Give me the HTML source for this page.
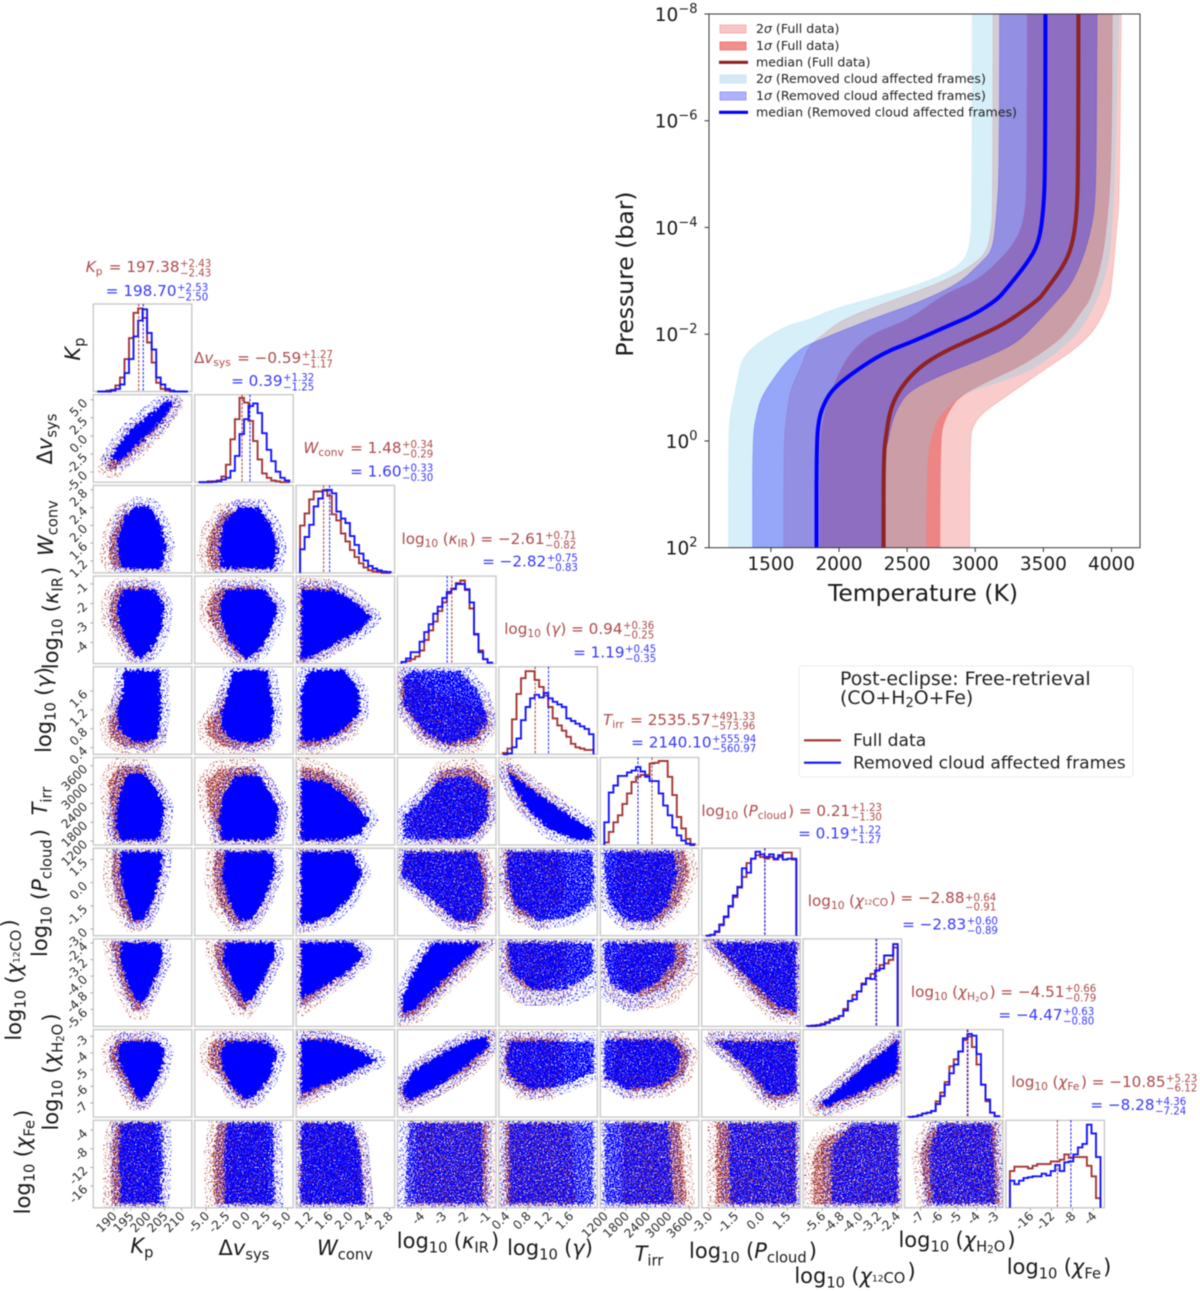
<!DOCTYPE html>
<html lang="en">
<head>
<meta charset="utf-8">
<title>Corner plot and temperature-pressure profile</title>
<style>
html,body{margin:0;padding:0;background:#fff;width:1200px;height:1291px;overflow:hidden}
svg{display:block;filter:blur(.5px);font-family:"DejaVu Sans","Liberation Sans",sans-serif}
</style>
</head>
<body>
<svg id="fig" xmlns="http://www.w3.org/2000/svg" width="1200" height="1291" viewBox="0 0 1200 1291">
<defs>
<filter id="haloRed" x="-30%" y="-30%" width="160%" height="160%" color-interpolation-filters="sRGB">
<feTurbulence type="fractalNoise" baseFrequency="0.6" numOctaves="2" seed="3" result="n"/>
<feColorMatrix in="n" type="matrix" values="0 0 0 0 0 0 0 0 0 0 0 0 0 0 0 0 0 0 9 -5.2" result="m"/>
<feComposite in="SourceGraphic" in2="m" operator="in"/>
</filter>
<filter id="haloBlue" x="-30%" y="-30%" width="160%" height="160%" color-interpolation-filters="sRGB">
<feTurbulence type="fractalNoise" baseFrequency="0.6" numOctaves="2" seed="11" result="n"/>
<feColorMatrix in="n" type="matrix" values="0 0 0 0 0 0 0 0 0 0 0 0 0 0 0 0 0 0 9 -5.0" result="m"/>
<feComposite in="SourceGraphic" in2="m" operator="in"/>
</filter>
<filter id="coreRed" x="-20%" y="-20%" width="140%" height="140%" color-interpolation-filters="sRGB">
<feTurbulence type="fractalNoise" baseFrequency="0.4" numOctaves="2" seed="8" result="n"/>
<feDisplacementMap in="SourceGraphic" in2="n" scale="10" xChannelSelector="R" yChannelSelector="G" result="d"/>
<feTurbulence type="fractalNoise" baseFrequency="0.7" numOctaves="2" seed="47" result="h"/>
<feColorMatrix in="h" type="matrix" values="0 0 0 0 0 0 0 0 0 0 0 0 0 0 0 0 0 0 9 -3.9" result="m"/>
<feComposite in="d" in2="m" operator="in"/>
</filter>
<filter id="coreSolid" x="-20%" y="-20%" width="140%" height="140%" color-interpolation-filters="sRGB">
<feTurbulence type="fractalNoise" baseFrequency="0.4" numOctaves="2" seed="5" result="n"/>
<feDisplacementMap in="SourceGraphic" in2="n" scale="10" xChannelSelector="R" yChannelSelector="G"/>
</filter>
<filter id="coreMid" x="-20%" y="-20%" width="140%" height="140%" color-interpolation-filters="sRGB">
<feTurbulence type="fractalNoise" baseFrequency="0.4" numOctaves="2" seed="5" result="n"/>
<feDisplacementMap in="SourceGraphic" in2="n" scale="10" xChannelSelector="R" yChannelSelector="G" result="d"/>
<feTurbulence type="fractalNoise" baseFrequency="0.7" numOctaves="2" seed="21" result="h"/>
<feColorMatrix in="h" type="matrix" values="0 0 0 0 0 0 0 0 0 0 0 0 0 0 0 0 0 0 9 -3.1" result="m"/>
<feComposite in="d" in2="m" operator="in"/>
</filter>
<filter id="coreLoose" x="-20%" y="-20%" width="140%" height="140%" color-interpolation-filters="sRGB">
<feTurbulence type="fractalNoise" baseFrequency="0.4" numOctaves="2" seed="5" result="n"/>
<feDisplacementMap in="SourceGraphic" in2="n" scale="10" xChannelSelector="R" yChannelSelector="G" result="d"/>
<feTurbulence type="fractalNoise" baseFrequency="0.7" numOctaves="2" seed="33" result="h"/>
<feColorMatrix in="h" type="matrix" values="0 0 0 0 0 0 0 0 0 0 0 0 0 0 0 0 0 0 9 -3.6" result="m"/>
<feComposite in="d" in2="m" operator="in"/>
</filter>
<clipPath id="tpClip"><rect x="709" y="14" width="431" height="533.7"/></clipPath>
</defs>

<g id="tp-chart"></g>

<text x="923" y="601" font-size="23.5" text-anchor="middle" fill="#1a1a1a">Temperature (K)</text>
<text x="633" y="274" font-size="23.5" text-anchor="middle" fill="#1a1a1a" transform="rotate(-90 633 274)">Pressure (bar)</text>

<g font-size="12.55" fill="#222">
<rect x="720" y="25" width="26" height="8" fill="#f8c6c6" stroke="#f0a8a8" stroke-width=".8"/>
<text x="756" y="33">2<tspan font-style="italic">σ</tspan> (Full data)</text>
<rect x="720" y="42" width="26" height="8" fill="#f29090" stroke="#e66" stroke-width=".8"/>
<text x="756" y="50">1<tspan font-style="italic">σ</tspan> (Full data)</text>
<line x1="719" x2="748" y1="62.3" y2="62.3" stroke="#8f2020" stroke-width="3.2"/>
<text x="756" y="66.5">median (Full data)</text>
<rect x="720" y="75" width="26" height="8" fill="#d6e9f5" stroke="#c8e2f2" stroke-width=".8"/>
<text x="756" y="83">2<tspan font-style="italic">σ</tspan> (Removed cloud affected frames)</text>
<rect x="720" y="92" width="26" height="8" fill="#b0b2fb" stroke="#8a8cf0" stroke-width=".8"/>
<text x="756" y="100">1<tspan font-style="italic">σ</tspan> (Removed cloud affected frames)</text>
<line x1="719" x2="748" y1="112.3" y2="112.3" stroke="#0000ff" stroke-width="3.2"/>
<text x="756" y="116.5">median (Removed cloud affected frames)</text>
</g>

<g fill="#222">
<rect x="799" y="666" width="334" height="111" rx="3" fill="#fff" stroke="#eeeeee" stroke-width="1.2"/>
<text x="840" y="685" font-size="18.9">Post-eclipse: Free-retrieval</text>
<text x="840" y="704" font-size="18.9">(CO+H<tspan dy="3" font-size="13">2</tspan><tspan dy="-3">O+Fe)</tspan></text>
<line x1="804" x2="841" y1="740.3" y2="740.3" stroke="#a33030" stroke-width="2.2"/>
<text x="853" y="746" font-size="17.1">Full data</text>
<line x1="804" x2="841" y1="762.7" y2="762.7" stroke="#1010ff" stroke-width="2.2"/>
<text x="853" y="768.5" font-size="17.1">Removed cloud affected frames</text>
</g>

<g id="corner"></g>
</svg>

<script>
/* ---------- temperature-pressure data: [log10 P (bar), T (K)] ---------- */
const red2sLo=[[-8,3130],[-4.5,3130],[-3.9,3117],[-3.51,3078],[-3.26,2959],[-3,2775],[-2.72,2485],[-2.3,2037],[-1.99,1879],[-1.77,1774],[-1.46,1734],[-.96,1642],[-.52,1616],[.04,1595],[2,1595]];
const red2sHi=[[-8,4071],[-4.5,4058],[-4,4039],[-2.89,4000],[-2.64,3986],[-2.08,3881],[-1.7,3723],[-1.39,3539],[-.83,3223],[-.52,3051],[-.3,2986],[-.02,2959],[2,2959]];
const red1sLo=[[-8,3381],[-5.1,3381],[-4.2,3367],[-3.76,3302],[-3.39,3183],[-3,3012],[-2.76,2775],[-2.26,2511],[-2.02,2248],[-1.68,2090],[-1.27,1998],[-.83,1932],[-.52,1892],[-.02,1858],[2,1858]];
const red1sHi=[[-8,4007],[-5.1,4000],[-3.88,3960],[-3.26,3921],[-2.64,3842],[-2.46,3789],[-2.02,3670],[-1.74,3539],[-1.39,3328],[-1.15,3117],[-.83,2880],[-.58,2814],[-.39,2775],[-.02,2741],[2,2741]];
const redMedian=[[-8,3757],[-5.1,3757],[-4.2,3744],[-3.64,3710],[-3.26,3644],[-2.76,3499],[-2.64,3460],[-2.2,3223],[-1.92,2986],[-1.68,2775],[-1.39,2590],[-1.02,2459],[-.64,2380],[-.14,2346],[.29,2327],[2,2327]];
const blue2sLo=[[-8,2978],[-4.27,2978],[-3.58,2959],[-3.26,2880],[-2.95,2617],[-2.64,2195],[-2.45,1932],[-2.26,1774],[-2.17,1616],[-1.8,1379],[-1.52,1287],[-1.33,1268],[-.96,1242],[-.52,1200],[.04,1189],[2,1189]];
const blue2sHi=[[-8,4052],[-5.1,4026],[-3.88,4000],[-3.26,3973],[-2.64,3894],[-2.08,3776],[-1.7,3618],[-1.36,3433],[-1.14,3223],[-.89,2907],[-.68,2814],[-.43,2722],[-.14,2683],[.36,2638],[2,2638]];
const blue1sLo=[[-8,3178],[-5.1,3178],[-4.26,3157],[-3.58,3130],[-3.33,3038],[-2.95,2880],[-2.6,2590],[-2.26,2209],[-1.86,1827],[-1.74,1721],[-1.46,1603],[-1.14,1511],[-.83,1432],[-.52,1397],[-.08,1366],[2,1366]];
const blue1sHi=[[-8,3894],[-5.5,3889],[-4.5,3881],[-4,3855],[-3.4,3789],[-2.9,3697],[-2.64,3605],[-2.27,3473],[-1.89,3328],[-1.7,3196],[-1.49,3012],[-1.24,2749],[-.93,2511],[-.64,2432],[-.33,2385],[.1,2353],[.36,2314],[2,2314]];
const blueMedian=[[-8,3515],[-5.1,3515],[-4.26,3499],[-3.7,3465],[-3.33,3381],[-2.83,3223],[-2.64,3157],[-2.36,2986],[-2.17,2814],[-1.86,2538],[-1.68,2353],[-1.42,2182],[-1.05,1985],[-.8,1906],[-.39,1845],[.36,1835],[2,1835]];
const tpTempTicks=[1500,2000,2500,3000,3500,4000];
const tpPressTicks=[-8,-6,-4,-2,0,2];

/* ---------- corner plot axes ---------- */
const axisLo=[184,-6.4,.93,-5.08,.257,1075,-3.43,-6.42,-7.85,-20.66];
const axisHi=[213,5.7,2.9,-.6,2.11,3860,2.23,-2.2,-2.6,-1.9];
const ticksKp=[190,195,200,205,210];
const ticksDv=[-5,-2.5,0,2.5,5];
const ticksW=[1.2,1.6,2,2.4,2.8];
const ticksKir=[-4,-3,-2,-1];
const ticksGamma=[.4,.8,1.2,1.6];
const ticksT=[1200,1800,2400,3000,3600];
const ticksP=[-3,-1.5,0,1.5];
const ticksCo=[-5.6,-4.8,-4,-3.2,-2.4];
const ticksH2o=[-7,-6,-5,-4,-3];
const ticksFe=[-16,-12,-8,-4];
const tickDecimals=[0,1,1,0,1,0,1,1,0,0];

/* ---------- printed values above each histogram ---------- */
const medRedText=['197.38','−0.59','1.48','−2.61','0.94','2535.57','0.21','−2.88','−4.51','−10.85'];
const plusRedText=['2.43','1.27','0.34','0.71','0.36','491.33','1.23','0.64','0.66','5.23'];
const minusRedText=['2.43','1.17','0.29','0.82','0.25','573.96','1.30','0.91','0.79','6.12'];
const medBlueText=['198.70','0.39','1.60','−2.82','1.19','2140.10','0.19','−2.83','−4.47','−8.28'];
const plusBlueText=['2.53','1.32','0.33','0.75','0.45','555.94','1.22','0.60','0.63','4.36'];
const minusBlueText=['2.50','1.25','0.30','0.83','0.35','560.97','1.27','0.89','0.80','7.24'];
/* dashed median positions as drawn in the figure */
const medianRed=[197.38,-.59,1.48,-2.61,.94,2535,.21,-3.3,-4.51,-10.85];
const medianBlue=[198.7,.39,1.6,-2.82,1.19,2140,.19,-3.27,-4.47,-8.28];

/* ---------- histograms: 20 bins, peak-scaled counts ---------- */
const histKpRed=[0,0,.01,.02,.07,.16,.37,.61,.9,.95,.84,.56,.33,.1,.03,.01,0,0,0,0];
const histKpBlue=[0,0,0,.01,.03,.08,.21,.37,.63,.81,.94,.67,.48,.16,.08,.03,.01,0,0,0];
const histDvRed=[0,0,.01,.01,.02,.065,.2,.49,.72,.965,.91,.7,.47,.26,.1,.05,.02,.01,0,0];
const histDvBlue=[0,0,0,.005,.01,.03,.05,.13,.3,.55,.72,.87,.9,.79,.56,.37,.24,.12,.05,.02];
const histWRed=[.54,.68,.84,.93,.93,.95,.88,.67,.6,.45,.36,.26,.18,.11,.06,.03,.015,.01,0,0];
const histWBlue=[.27,.41,.55,.76,.85,.94,.95,.91,.7,.62,.57,.42,.32,.22,.14,.08,.05,.03,.015,.01];
const histKirRed=[.02,.03,.05,.08,.15,.27,.38,.48,.6,.7,.8,.86,.92,.95,.84,.63,.33,.15,.05,.01];
const histKirBlue=[.02,.06,.13,.13,.25,.36,.45,.57,.65,.75,.82,.85,.91,.91,.85,.7,.34,.13,.05,.01];
const histGammaRed=[.015,.065,.4,.69,.87,.95,.95,.85,.77,.67,.54,.41,.33,.27,.2,.12,.08,.065,.05,.05];
const histGammaBlue=[0,.01,.08,.18,.39,.54,.64,.68,.65,.7,.64,.6,.57,.54,.41,.38,.35,.32,.29,.23];
const histTRed=[.03,.15,.26,.34,.47,.59,.72,.78,.8,.8,.93,.94,.96,.96,.78,.57,.32,.19,.07,.01];
const histTBlue=[.26,.6,.68,.79,.79,.83,.85,.89,.84,.78,.73,.73,.59,.45,.34,.2,.11,.05,.015,0];
const histPRed=[0,.01,.04,.13,.21,.33,.44,.56,.67,.83,.88,.92,.9,.88,.9,.87,.9,.95,.95,.87];
const histPBlue=[0,.01,.05,.12,.22,.34,.46,.55,.77,.72,.88,.96,.93,.9,.93,.88,.92,.87,.88,.88];
const histCoRed=[.005,.01,.015,.03,.05,.08,.095,.12,.2,.29,.36,.4,.49,.55,.6,.64,.7,.72,.76,.9];
const histCoBlue=[.005,.005,.01,.02,.04,.07,.085,.12,.18,.29,.31,.4,.48,.55,.54,.64,.66,.81,.81,.94];
const histH2oRed=[.003,.008,.02,.04,.05,.07,.18,.28,.4,.58,.66,.75,.88,.92,.8,.6,.37,.18,.05,.01];
const histH2oBlue=[.002,.006,.02,.04,.05,.07,.15,.24,.37,.5,.6,.75,.9,.95,.93,.72,.37,.2,.05,.01];
const histFeRed=[.42,.47,.47,.47,.45,.48,.5,.5,.5,.53,.53,.55,.61,.57,.58,.58,.58,.48,.36,.11];
const histFeBlue=[.31,.27,.31,.34,.35,.36,.36,.39,.37,.42,.49,.42,.52,.53,.61,.69,.73,.95,.85,.58];

/* ---------- dense scatter-cloud outlines: [x value, y value] per panel (row_col) ---------- */
const red1_0=[[188,-4.6],[190,-4.7],[197,-1.8],[203,1.2],[208,4.4],[207,4.6],[203,2.6],[195,-.1],[188.5,-3.6]];
const blue1_0=[[189,-3.3],[192,-3.4],[198,-.7],[204,2],[207.5,4.5],[206,4.9],[201,3.2],[195,.9],[190.5,-1.8]];
const red2_0=[[190,1.03],[203,1.03],[204,1.4],[202,1.9],[198,2.3],[193,2.3],[189.5,1.8],[188.5,1.3]];
const blue2_0=[[192,1.03],[204,1.03],[205.5,1.5],[204,2],[201,2.4],[197,2.45],[193,2.2],[191,1.6]];
const red2_1=[[-4.4,1.03],[2.6,1.03],[3,1.5],[2,2],[0,2.35],[-3,2.3],[-4.6,1.8],[-5,1.3]];
const blue2_1=[[-3.1,1.03],[3.3,1.03],[3.8,1.5],[3,2],[1.5,2.4],[-1,2.4],[-2.7,2.1],[-3.4,1.5]];
const red3_0=[[191,-1.2],[199,-1.1],[203,-1.7],[202,-3.2],[199,-4.6],[196,-4.8],[192,-3.8],[189,-2.8],[189,-1.9]];
const blue3_0=[[193,-1.3],[202,-1.25],[205,-2.2],[204,-3.4],[201,-4.4],[198,-4.8],[196,-4.6],[193,-3.6],[191,-2.6],[191.5,-1.8]];
const red3_1=[[-3.5,-1.2],[1,-1.1],[3,-1.8],[2.2,-3.2],[.5,-4.6],[-.8,-4.8],[-3,-3.8],[-4.7,-2.8],[-4.8,-1.9]];
const blue3_1=[[-2.5,-1.3],[2,-1.25],[3.8,-2.2],[3,-3.4],[1.6,-4.4],[0,-4.85],[-1,-4.5],[-2.5,-3.6],[-3.3,-2.6],[-3.2,-1.9]];
const red3_2=[[1.03,-1.1],[1.6,-1.2],[2,-1.8],[2.3,-2.6],[2,-3.5],[1.5,-4.4],[1.1,-4.9],[1.03,-4.9]];
const blue3_2=[[1.03,-1.3],[1.7,-1.3],[2.1,-1.9],[2.45,-2.7],[2.2,-3.4],[1.7,-4.1],[1.2,-4.8],[1.03,-4.8]];
const red4_0=[[191,1.3],[193,1.6],[196,1.4],[201,.9],[203,.6],[200,.42],[193,.42],[189,.6],[188.5,.9]];
const blue4_0=[[193,2.04],[203.5,2.04],[204,1.2],[203,.6],[199,.5],[195,.55],[191.5,.8],[191,1.2],[192.5,1.5]];
const red4_1=[[-3.5,1.2],[-2.5,1.5],[0,1.3],[2,.8],[2.3,.5],[0,.42],[-3,.42],[-4.8,.65],[-5,.9]];
const blue4_1=[[-1.8,2.04],[2.5,2.04],[3.3,1.2],[3,.65],[.7,.5],[-1.5,.55],[-3,.75],[-3.2,1.1],[-2.5,1.45]];
const red4_2=[[1.03,1.3],[1.6,1],[2.1,1],[2,.75],[1.4,.45],[1.03,.42]];
const blue4_2=[[1.2,2.04],[1.9,2.04],[2.2,1.6],[2.2,1.1],[1.7,.65],[1.2,.52],[1.03,.55],[1.03,1.6]];
const red4_3=[[-4.9,1.3],[-4.9,1.9],[-3,1.5],[-1.1,1.2],[-.9,.9],[-1.5,.48],[-2.8,.42],[-3.8,.62]];
const blue4_3=[[-4.8,1.9],[-4.4,2.02],[-2.2,2.02],[-1.3,1.5],[-.95,.95],[-1.6,.6],[-2.8,.48],[-3.8,.7],[-4.8,1.3]];
const red5_0=[[191,3560],[198,3600],[202,2900],[203.5,2300],[203,1230],[190,1230],[189,2400],[188.5,3100]];
const blue5_0=[[194,3350],[199,3350],[203,2800],[205,2300],[204,1400],[202.5,1230],[192,1230],[190.5,1700],[191.5,2600]];
const red5_1=[[-3.5,3500],[.5,3560],[2.5,2900],[3.4,2300],[2.8,1230],[-3.3,1230],[-4.8,2400],[-5,3100]];
const blue5_1=[[-1.3,3300],[1.5,3300],[3,2700],[4,2200],[3.5,1400],[2.3,1230],[-3,1230],[-3.5,1900],[-2.8,2700]];
const red5_2=[[1.03,3600],[1.5,3400],[2,2900],[2.2,2400],[2.1,1900],[1.7,1230],[1.03,1230]];
const blue5_2=[[1.03,3200],[1.6,3050],[2.1,2400],[2.4,1900],[2.2,1400],[1.8,1230],[1.03,1230]];
const red5_3=[[-4.6,1700],[-3.8,2500],[-3.1,3450],[-1.7,3560],[-.9,3050],[-.9,2100],[-1.4,1500],[-2.5,1230],[-4,1300]];
const blue5_3=[[-4.8,1300],[-4.8,2000],[-4,2500],[-3.2,3150],[-2,3300],[-1,2800],[-1,1900],[-1.8,1280],[-4,1240]];
const red5_4=[[.38,3620],[1.3,2350],[1.5,2050],[1.15,1800],[.7,2400],[.5,2950]];
const blue5_4=[[.42,3400],[1.34,2300],[2.03,1545],[2.03,1230],[1.72,1230],[1.21,1550],[.8,2200],[.55,2900]];
const red6_0=[[190,2],[202,2],[203,.6],[200,-1.6],[198,-2.6],[195,-2.6],[191,-1.2],[189.5,.4]];
const blue6_0=[[192,2],[204.5,2],[204,.7],[202,-1],[199,-2.4],[196,-2.5],[193.5,-1],[192,.3]];
const red6_1=[[-3.8,2],[2.5,2],[3,.6],[1.5,-1.6],[0,-2.6],[-1.5,-2.7],[-3.5,-1.4],[-4.2,.4]];
const blue6_1=[[-2.7,2],[3.2,2],[3.5,.7],[2.2,-1],[.7,-2.4],[-1,-2.5],[-2.2,-1.2],[-3,.3]];
const red6_2=[[1.03,2],[1.95,2],[2.1,.6],[1.8,-1],[1.4,-2.3],[1.03,-2.7]];
const blue6_2=[[1.03,2],[2.05,2],[2.25,.6],[2,-1],[1.6,-2.2],[1.2,-2.6],[1.03,-2.6]];
const red6_3=[[-4.6,2],[-1.3,2],[-1,.5],[-1,-1.6],[-1.6,-2.7],[-2.4,-2.5],[-3.5,-1],[-4.9,.6]];
const blue6_3=[[-4.8,2],[-1.5,2],[-1.2,.5],[-1.2,-1.6],[-1.6,-2.5],[-2.5,-2.4],[-3.6,-1],[-4.9,.4]];
const red6_4=[[.38,2],[1.4,2],[1.5,-1],[1,-2.5],[.6,-2],[.38,-.3]];
const blue6_4=[[.42,2],[2.03,2],[2.03,-1.2],[1.6,-2.2],[1,-2.5],[.55,-1.4],[.42,.3]];
const red6_5=[[1600,2],[3450,2],[3600,.7],[3300,-1.3],[2700,-2.5],[1900,-2.5],[1500,-1],[1500,.5]];
const blue6_5=[[1200,2],[3150,2],[3250,.7],[3000,-1.4],[2500,-2.5],[1800,-2.5],[1350,-1.4],[1200,.3]];
const red7_0=[[189.5,-2.38],[202,-2.38],[202.5,-3.2],[200,-4.6],[198,-5.7],[196,-5.6],[193,-4.6],[190.5,-3.3]];
const blue7_0=[[192,-2.38],[204,-2.38],[204.5,-3.2],[202,-4.2],[199,-5.2],[197,-5.3],[194,-4.3],[192,-3.3]];
const red7_1=[[-4,-2.38],[2.5,-2.38],[3,-3],[1.2,-4.5],[0,-5.6],[-1,-5.5],[-2.6,-4.4],[-3.9,-3.2]];
const blue7_1=[[-2.6,-2.38],[3.3,-2.38],[3.5,-3],[2,-4.2],[.8,-5.1],[-.3,-5.2],[-1.8,-4.2],[-2.9,-3.2]];
const red7_2=[[1.03,-2.38],[1.95,-2.38],[2.2,-3],[1.8,-4],[1.3,-5],[1.03,-5.5]];
const blue7_2=[[1.03,-2.38],[2.05,-2.38],[2.3,-3],[1.9,-3.9],[1.4,-4.6],[1.03,-5.1]];
const red7_3=[[-3.2,-2.38],[-1,-2.38],[-2.4,-3.9],[-4.2,-5.8],[-4.9,-6],[-4.85,-5.4],[-4.2,-4]];
const blue7_3=[[-3.5,-2.38],[-1.15,-2.38],[-2.6,-3.8],[-4.3,-5.6],[-4.8,-5.8],[-4.9,-5.2],[-4.4,-3.9]];
const red7_4=[[.38,-2.38],[1.5,-2.38],[1.55,-3.8],[1.2,-4.7],[.8,-4.7],[.42,-3.8]];
const blue7_4=[[.42,-2.38],[2.03,-2.38],[2.03,-3.9],[1.5,-4.6],[.9,-4.7],[.5,-3.8]];
const red7_5=[[1800,-2.38],[3450,-2.38],[3500,-3.3],[2900,-4.6],[2200,-4.9],[1700,-4.5],[1500,-3.2]];
const blue7_5=[[1200,-2.38],[3150,-2.38],[3200,-3.2],[2700,-4.3],[2000,-4.9],[1450,-4.5],[1200,-3.4]];
const red7_6=[[-2.9,-2.38],[2,-2.38],[2,-5.9],[.8,-5.8],[-.6,-4.6]];
const blue7_6=[[-2.8,-2.38],[2,-2.38],[2,-5.7],[1,-5.5],[-.5,-4.3]];
const red8_0=[[191,-3.2],[201,-3.2],[203,-3.9],[202,-5.4],[199,-6.9],[196,-6.9],[193,-5.7],[189.5,-4.7],[189,-3.9]];
const blue8_0=[[192.5,-3.3],[203,-3.3],[205,-3.9],[203.5,-5.3],[200,-6.6],[198,-6.9],[195.5,-6.2],[192,-4.8],[191,-4]];
const red8_1=[[-3.8,-3.2],[1.5,-3.2],[3,-3.9],[2,-5.5],[.3,-6.8],[-1,-6.8],[-2.5,-5.7],[-4.5,-4.8],[-4.8,-3.9]];
const blue8_1=[[-2.5,-3.3],[2.5,-3.3],[3.8,-4],[2.8,-5.5],[1,-6.6],[-.3,-6.8],[-2,-5.9],[-3,-4.8],[-3.3,-4]];
const red8_2=[[1.03,-3.15],[1.5,-3.15],[2,-3.6],[2.3,-4.4],[1.8,-5.5],[1.3,-6.4],[1.03,-6.8]];
const blue8_2=[[1.03,-3.25],[1.6,-3.2],[2.1,-3.7],[2.55,-4.4],[2,-5.3],[1.4,-6],[1.03,-6.5]];
const red8_3=[[-4.95,-6.4],[-4.4,-5.3],[-3,-4.1],[-1.8,-3.3],[-.9,-3],[-.85,-3.7],[-1.9,-5],[-3.3,-6.1],[-4.6,-7.1]];
const blue8_3=[[-4.9,-6.2],[-4.4,-5.1],[-3,-4],[-1.8,-3.2],[-1,-3.05],[-.95,-3.6],[-2,-4.8],[-3.2,-6],[-4.6,-6.9]];
const red8_4=[[.4,-3.15],[1.4,-3.15],[1.5,-5],[1.2,-6.3],[.7,-6.3],[.38,-5.2]];
const blue8_4=[[.45,-3.3],[2.03,-3.3],[2.03,-5.2],[1.4,-6],[.9,-6.2],[.45,-5.4],[.38,-4.4]];
const red8_5=[[1500,-3.1],[3200,-3.1],[3600,-4],[3450,-5.3],[2900,-6.1],[2000,-6.3],[1400,-5.5]];
const blue8_5=[[1230,-3.2],[3000,-3.2],[3400,-4],[3200,-5.3],[2700,-6],[1800,-6.2],[1200,-5.5],[1180,-4]];
const red8_6=[[-2.8,-3.2],[2,-3.2],[2,-6.5],[.8,-6.9],[.2,-6.6],[-.9,-5]];
const blue8_6=[[-2.7,-3.3],[2,-3.3],[2,-6.3],[1,-6.6],[.3,-6.4],[-.8,-4.9]];
const red8_7=[[-5.9,-7.2],[-5.3,-6.6],[-4,-5],[-2.36,-3.1],[-2.36,-5.3],[-4,-6.6],[-5.5,-7.4]];
const blue8_7=[[-5.6,-7],[-5.1,-6.4],[-4,-5],[-2.36,-3.2],[-2.36,-5.1],[-4,-6.4],[-5.4,-7.2]];
const red9_0=[[190.5,-2.5],[202.5,-2.5],[203,-19.8],[189.5,-19.8],[189.5,-8]];
const blue9_0=[[192,-2.5],[204,-2.5],[204.5,-8],[204,-19.8],[192,-19.8],[191.5,-8]];
const red9_1=[[-3.6,-2.5],[2.5,-2.5],[2.8,-19.8],[-4,-19.8],[-4.2,-9]];
const blue9_1=[[-2.4,-2.5],[3.2,-2.5],[3.4,-19.8],[-2.7,-19.8],[-2.8,-8]];
const red9_2=[[1.03,-2.5],[1.8,-2.5],[2.2,-6],[2.3,-19.8],[1.03,-19.8]];
const blue9_2=[[1.03,-2.5],[2.05,-2.5],[2.2,-8],[2.3,-19.8],[1.03,-19.8]];
const red9_3=[[-4.2,-2.5],[-1,-2.5],[-1,-19.8],[-4.3,-19.8]];
const blue9_3=[[-4.6,-2.5],[-1.2,-2.5],[-1.2,-19.8],[-4.7,-19.8]];
const red9_4=[[.38,-2.5],[1.6,-2.5],[1.7,-19.8],[.38,-19.8]];
const blue9_4=[[.45,-2.5],[2.03,-2.5],[2.03,-19.8],[.45,-19.8]];
const red9_5=[[1700,-2.5],[3350,-2.5],[3500,-19.8],[1700,-19.8]];
const blue9_5=[[1200,-2.5],[3000,-2.5],[3150,-19.8],[1200,-19.8]];
const red9_6=[[-2.6,-2.5],[2,-2.5],[2,-19.8],[-2.6,-19.8]];
const blue9_6=[[-1.9,-2.5],[2,-2.5],[2,-19.8],[-1.8,-19.8]];
const red9_7=[[-5.6,-6],[-4.2,-3],[-2.4,-3],[-2.36,-19.8],[-6,-19.8],[-6,-10]];
const blue9_7=[[-4.3,-2.6],[-2.36,-2.6],[-2.36,-19.8],[-5.2,-19.8],[-5.2,-8]];
const red9_8=[[-6.5,-4],[-5.8,-2.8],[-3,-2.6],[-2.8,-19.8],[-6.7,-19.8],[-7,-9]];
const blue9_8=[[-6,-2.6],[-3.2,-2.6],[-3,-19.8],[-6.4,-19.8],[-6.5,-8]];

const tickSets=[ticksKp,ticksDv,ticksW,ticksKir,ticksGamma,ticksT,ticksP,ticksCo,ticksH2o,ticksFe];
const histsRed=[histKpRed,histDvRed,histWRed,histKirRed,histGammaRed,histTRed,histPRed,histCoRed,histH2oRed,histFeRed];
const histsBlue=[histKpBlue,histDvBlue,histWBlue,histKirBlue,histGammaBlue,histTBlue,histPBlue,histCoBlue,histH2oBlue,histFeBlue];
const cloudsRed=[[],[red1_0],[red2_0,red2_1],[red3_0,red3_1,red3_2],[red4_0,red4_1,red4_2,red4_3],[red5_0,red5_1,red5_2,red5_3,red5_4],[red6_0,red6_1,red6_2,red6_3,red6_4,red6_5],[red7_0,red7_1,red7_2,red7_3,red7_4,red7_5,red7_6],[red8_0,red8_1,red8_2,red8_3,red8_4,red8_5,red8_6,red8_7],[red9_0,red9_1,red9_2,red9_3,red9_4,red9_5,red9_6,red9_7,red9_8]];
const cloudsBlue=[[],[blue1_0],[blue2_0,blue2_1],[blue3_0,blue3_1,blue3_2],[blue4_0,blue4_1,blue4_2,blue4_3],[blue5_0,blue5_1,blue5_2,blue5_3,blue5_4],[blue6_0,blue6_1,blue6_2,blue6_3,blue6_4,blue6_5],[blue7_0,blue7_1,blue7_2,blue7_3,blue7_4,blue7_5,blue7_6],[blue8_0,blue8_1,blue8_2,blue8_3,blue8_4,blue8_5,blue8_6,blue8_7],[blue9_0,blue9_1,blue9_2,blue9_3,blue9_4,blue9_5,blue9_6,blue9_7,blue9_8]];

/* ---------- geometry ---------- */
const NS='http://www.w3.org/2000/svg';
const PX0=93.3,PDX=101.4,PW=98.5,PY0=304,PDY=90.7,PH=87.5;
const RED='#a02c2c',BLUE='#0000ff',HRED='#a33535',HBLUE='#1414ff',TRED='#ad4a4a',TBLUE='#3838ff';
const colX=i=>PX0+i*PDX;
const rowY=j=>PY0+j*PDY;
const xAxis=(i,v)=>colX(i)+PW*(v-axisLo[i])/(axisHi[i]-axisLo[i]);
const yAxis=(j,v)=>rowY(j)+PH*(axisHi[j]-v)/(axisHi[j]-axisLo[j]);
const binEdge=(i,k)=>axisLo[i]+(axisHi[i]-axisLo[i])*(.0406+k*.046);
const yHist=(j,f)=>rowY(j)+PH*(1-f);
const tpX=t=>709+(t-1045.7)*.13624;
const tpY=lp=>547.7-(2-lp)*53.37;

function mk(tag,attrs,parent,content){
  const el=document.createElementNS(NS,tag);
  for(const k in attrs)el.setAttribute(k,attrs[k]);
  if(content!==undefined)el.innerHTML=content;
  parent.appendChild(el);
  return el;
}

/* rounded path through a curve's points, in pixel space */
function smoothSegs(arr,first){
  const P=arr.map(p=>[tpX(p[1]),tpY(p[0])]);
  let d=(first?'M':'L')+P[0][0].toFixed(1)+' '+P[0][1].toFixed(1);
  for(let i=1;i<P.length-1;i++){
    const mx=(P[i][0]+P[i+1][0])/2,my=(P[i][1]+P[i+1][1])/2;
    d+=' Q'+P[i][0].toFixed(1)+' '+P[i][1].toFixed(1)+' '+mx.toFixed(1)+' '+my.toFixed(1);
  }
  const L=P[P.length-1];
  d+=' L'+L[0].toFixed(1)+' '+L[1].toFixed(1);
  return d;
}

/* ---------- temperature-pressure panel ---------- */
(function(){
  const root=document.getElementById('tp-chart');
  const plot=mk('g',{'clip-path':'url(#tpClip)'},root);
  
  
  const band=(lo,hi,fill,op,name)=>{
    const d=smoothSegs(lo,true)+' '+smoothSegs(hi.slice().reverse(),false)+' Z';
    const el=mk('path',{d:d,fill:fill,'fill-opacity':op,stroke:fill,'stroke-opacity':.18,'stroke-width':1},plot);
    
    
  };
  band(red2sLo,red2sHi,'#e83030',.25,'band-2sigma-full');
  band(red1sLo,red1sHi,'#e03030',.45,'band-1sigma-full');
  band(blue2sLo,blue2sHi,'#87ceeb',.33,'band-2sigma-removed');
  band(blue1sLo,blue1sHi,'#0000ff',.3,'band-1sigma-removed');
  const med=(arr,col,name)=>{
    const el=mk('path',{d:smoothSegs(arr,true),fill:'none',stroke:col,'stroke-width':4,'stroke-linejoin':'round'},plot);
    
    
  };
  med(redMedian,'#8f2222','median-line-full');
  med(blueMedian,'#0000ff','median-line-removed');
  const frame=mk('rect',{x:709,y:14,width:431,height:533.7,fill:'none',stroke:'#3a3a3a','stroke-width':1},root);
  
  
  tpTempTicks.forEach(t=>{
    const tick=mk('line',{x1:tpX(t),x2:tpX(t),y1:547.7,y2:552,stroke:'#333','stroke-width':1},root);
    
    
    const lab=mk('text',{x:tpX(t),y:570,'font-size':18.5,'text-anchor':'middle',fill:'#1a1a1a'},root,String(t));
    
    
  });
  tpPressTicks.forEach(e=>{
    const tick=mk('line',{x1:704.5,x2:709,y1:tpY(e),y2:tpY(e),stroke:'#333','stroke-width':1},root);
    
    
    const txt=(e<0?'−'+(-e):String(e));
    const lab=mk('text',{x:697.5,y:tpY(e)+7,'font-size':18.5,'text-anchor':'end',fill:'#1a1a1a'},root,'10<tspan dy="-8" font-size="13">'+txt+'</tspan>');
    
    
  });
})();

/* ---------- label helpers ---------- */
const I=t=>'<tspan font-style="italic">'+t+'</tspan>';
const S=(t,d)=>'<tspan dy="'+d+'" font-size="70%">'+t+'</tspan><tspan dy="'+(-d)+'">\u200a</tspan>';
const L=d=>'log'+S('10',d)+'\u2009(';
const symbols=[
  d=>I('K')+S('p',d),
  d=>'Δ'+I('v')+S('sys',d),
  d=>I('W')+S('conv',d),
  d=>L(d)+I('κ')+S('IR',d)+')',
  d=>L(d)+I('γ')+')',
  d=>I('T')+S('irr',d),
  d=>L(d)+I('P')+S('cloud',d)+')',
  d=>L(d)+I('χ')+'<tspan dy="'+d+'" font-size="70%"><tspan font-size="62%" dy="-1.5">12</tspan><tspan dy="1.5">CO</tspan></tspan><tspan dy="'+(-d)+'">\u200a</tspan>)',
  d=>L(d)+I('χ')+'<tspan dy="'+d+'" font-size="70%">H<tspan font-size="70%" dy="1.5">2</tspan><tspan dy="-1.5">O</tspan></tspan><tspan dy="'+(-d)+'">\u200a</tspan>)',
  d=>L(d)+I('χ')+S('Fe',d)+')'
];

/* ---------- corner plot ---------- */
(function(){
  const root=document.getElementById('corner');
  const names=['kp','dv-sys','w-conv','log-kappa-ir','log-gamma','t-irr','log-p-cloud','log-chi-co','log-chi-h2o','log-chi-fe'];

  const coreFilter=(r,c)=>{
    if(r===9)return c<=2?'coreMid':'coreLoose';
    if(c===3&&(r===7||r===8))return 'coreSolid';
    if(c===4&&r===5)return 'coreSolid';
    if(c>=3&&r>=5&&c<=6)return 'coreMid';
    if(c===3&&r===4)return 'coreMid';
    return 'coreSolid';
  };
  const polyPts=(c,r,arr)=>arr.map(p=>xAxis(c,p[0]).toFixed(1)+','+yAxis(r,p[1]).toFixed(1)).join(' ');

  for(let r=1;r<10;r++){
    for(let c=0;c<r;c++){
      const clipId='clip-'+r+'-'+c;
      const cp=mk('clipPath',{id:clipId},root);
      mk('rect',{x:colX(c),y:rowY(r),width:PW,height:PH},cp);
      const panel=mk('g',{'clip-path':'url(#'+clipId+')'},root);
      
      
      const rp=polyPts(c,r,cloudsRed[r][c]);
      const bp=polyPts(c,r,cloudsBlue[r][c]);
      const hw=(r===7&&(c===4||c===5))?34:18;
      const haloR=mk('polygon',{points:rp,fill:RED,stroke:RED,'stroke-width':hw,'stroke-linejoin':'round',filter:'url(#haloRed)',opacity:.8},panel);
      
      
      const coreR=mk('polygon',{points:rp,fill:RED,filter:'url(#coreRed)'},panel);
      
      
      const haloB=mk('polygon',{points:bp,fill:BLUE,stroke:BLUE,'stroke-width':hw,'stroke-linejoin':'round',filter:'url(#haloBlue)',opacity:.8},panel);
      
      
      const coreB=mk('polygon',{points:bp,fill:BLUE,filter:'url(#'+coreFilter(r,c)+')'},panel);
      
      
    }
  }

  /* frames for every panel */
  for(let r=0;r<10;r++){
    for(let c=0;c<=r;c++){
      const fr=mk('rect',{x:colX(c),y:rowY(r),width:PW,height:PH,fill:'none',stroke:'#c9c9c9','stroke-width':1.4},root);
      
      
    }
  }

  /* histograms */
  const histPath=(i,vals)=>{
    let d='M'+xAxis(i,binEdge(i,0)).toFixed(1)+' '+yHist(i,0).toFixed(1);
    vals.forEach((f,k)=>{
      const y=yHist(i,f).toFixed(1);
      d+=' L'+xAxis(i,binEdge(i,k)).toFixed(1)+' '+y+' L'+xAxis(i,binEdge(i,k+1)).toFixed(1)+' '+y;
    });
    d+=' L'+xAxis(i,binEdge(i,vals.length)).toFixed(1)+' '+yHist(i,0).toFixed(1);
    return d;
  };
  for(let i=0;i<10;i++){
    const hr=mk('path',{d:histPath(i,histsRed[i]),fill:'none',stroke:HRED,'stroke-width':1.9},root);
    
    
    const hb=mk('path',{d:histPath(i,histsBlue[i]),fill:'none',stroke:HBLUE,'stroke-width':1.9},root);
    
    
    const mr=mk('line',{x1:xAxis(i,medianRed[i]),x2:xAxis(i,medianRed[i]),y1:rowY(i),y2:rowY(i)+PH,stroke:HRED,'stroke-width':1,'stroke-dasharray':'2.5 1.5'},root);
    
    
    const mb=mk('line',{x1:xAxis(i,medianBlue[i]),x2:xAxis(i,medianBlue[i]),y1:rowY(i),y2:rowY(i)+PH,stroke:HBLUE,'stroke-width':1,'stroke-dasharray':'2.5 1.5'},root);
    
    
  }

  /* tick labels */
  const fmt=(i,v)=>v.toFixed(tickDecimals[i]);
  for(let i=0;i<10;i++){
    tickSets[i].forEach(v=>{
      const x=xAxis(i,v),yb=rowY(9)+PH+5;
      const tk=mk('line',{x1:x,x2:x,y1:rowY(9)+PH,y2:rowY(9)+PH+3,stroke:'#999','stroke-width':.8},root);
      
      
      const lab=mk('text',{x:x+4,y:yb+4,'font-size':12.2,'text-anchor':'end',fill:'#2a2a2a',transform:'rotate(-45 '+(x+4)+' '+(yb+4)+')'},root,fmt(i,v));
      
      
    });
    if(i>0){
      tickSets[i].forEach(v=>{
        const y=yAxis(i,v),xa=colX(0)-5;
        const tk=mk('line',{x1:colX(0)-3,x2:colX(0),y1:y,y2:y,stroke:'#999','stroke-width':.8},root);
        
        
        const lab=mk('text',{x:xa,y:y+4,'font-size':12.2,'text-anchor':'end',fill:'#2a2a2a',transform:'rotate(-45 '+xa+' '+(y+4)+')'},root,fmt(i,v));
        
        
      });
    }
  }

  /* axis titles */
  const xLabX=[143,245,346,448,550,650,753,855,957,1059];
  const xLabY=[1253,1255,1255,1248,1255,1261,1258,1283,1247,1274];
  const yLabX=[80,52,53,58,51,47,47,21,58,30];
  const yLabY=[348,438,527,618,710,800,893,980,1072,1162];
  for(let i=0;i<10;i++){
    const xl=mk('text',{x:xLabX[i],y:xLabY[i],'font-size':21,'text-anchor':'middle',fill:'#1a1a1a'},root,symbols[i](4.5));
    
    
    const yl=mk('text',{x:yLabX[i],y:yLabY[i],'font-size':21,'text-anchor':'middle',fill:'#1a1a1a',transform:'rotate(-90 '+yLabX[i]+' '+yLabY[i]+')'},root,symbols[i](4.5));
    
    
  }

  /* histogram titles */
  const supXRed=[180,301.7,402,545,623,711,850.7,965,1065,1166];
  const supXBlue=[177,283,402,546.7,625,712,850,966.7,1063,1155];
  const baseRed=[272,363,453,544,634,725,816,906,997,1087];
  const baseBlue=[296,386,476.7,566.7,657.7,747.5,838.7,929.5,1020,1110];
  const title=(x,y,main,plus,minus,col,nm)=>{
    const m=mk('text',{x:x-.5,y:y,'font-size':15.2,'text-anchor':'end',fill:col},root,main);
    
    
    const p=mk('text',{x:x,y:y-5,'font-size':10.2,fill:col},root,'+'+plus);
    
    
    const q=mk('text',{x:x,y:y+4.5,'font-size':10.2,fill:col},root,'−'+minus);
    
    
  };
  for(let i=0;i<10;i++){
    title(supXRed[i],baseRed[i],symbols[i](3.2)+' = '+medRedText[i],plusRedText[i],minusRedText[i],TRED,'full-'+names[i]);
    title(supXBlue[i],baseBlue[i],'= '+medBlueText[i],plusBlueText[i],minusBlueText[i],TBLUE,'removed-'+names[i]);
  }
})();
</script>
</body>
</html>
